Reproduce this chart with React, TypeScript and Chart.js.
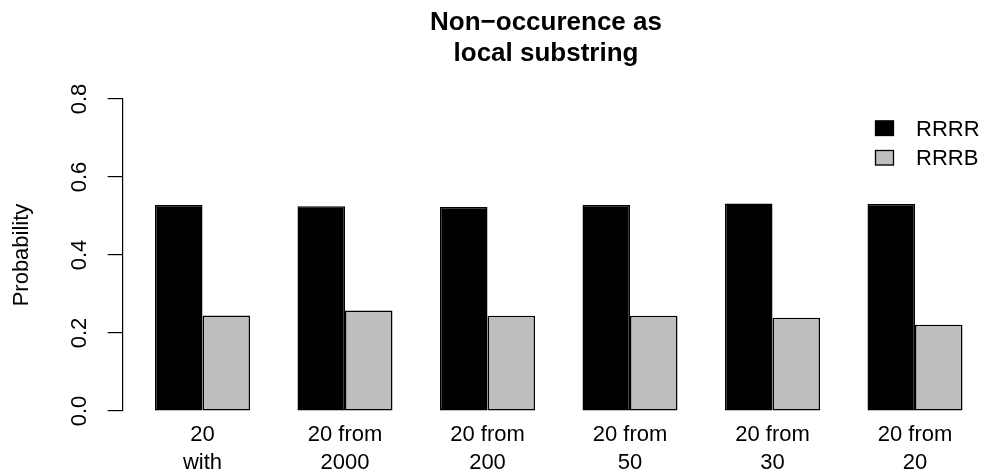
import React, { useEffect, useRef } from 'react';
import { Chart, registerables } from 'chart.js';

Chart.register(...registerables);

const categories: string[][] = [
  ['20', 'with'],
  ['20 from', '2000'],
  ['20 from', '200'],
  ['20 from', '50'],
  ['20 from', '30'],
  ['20 from', '20'],
];
const seriesNames = ['RRRR', 'RRRB'];
const rrrrValues = [0.528, 0.525, 0.523, 0.528, 0.532, 0.531];
const rrrbValues = [0.245, 0.258, 0.244, 0.244, 0.239, 0.221];
const yTickValues = [0, 0.2, 0.4, 0.6, 0.8];
const titleLines = ['Non\u2212occurence as', 'local substring'];
const yAxisLabel = 'Probability';

const FONT = "'Liberation Sans', Arial, Helvetica, sans-serif";

const legendPlugin = {
  id: 'rStyleLegend',
  afterDraw(chart: any) {
    const ctx = chart.ctx;
    ctx.save();
    chart.data.datasets.forEach((ds: any, i: number) => {
      const top = 120.5 + i * 29.5;
      ctx.fillStyle = ds.backgroundColor;
      ctx.fillRect(875, top, 19, 15.5);
      ctx.strokeStyle = '#000';
      ctx.lineWidth = 1.3;
      ctx.strokeRect(875.5, top + 0.5, 18, 14.5);
      ctx.fillStyle = '#000';
      ctx.font = `22px ${FONT}`;
      ctx.textAlign = 'left';
      ctx.textBaseline = 'alphabetic';
      ctx.fillText(ds.label, 916, 136 + i * 28.5);
    });
    ctx.restore();
  },
};

export default function App() {
  const canvasRef = useRef<HTMLCanvasElement | null>(null);

  useEffect(() => {
    if (!canvasRef.current) return;
    Chart.defaults.font.family = FONT;
    Chart.defaults.color = '#000';

    const chart = new Chart(canvasRef.current, {
      type: 'bar',
      data: {
        datasets: [
          {
            label: seriesNames[0],
            data: rrrrValues.map((v, i) => ({ x: i, y: v })),
            backgroundColor: '#000000',
            borderColor: '#000000',
            borderWidth: 1.5,
            borderSkipped: false,
          },
          {
            label: seriesNames[1],
            data: rrrbValues.map((v, i) => ({ x: i, y: v })),
            backgroundColor: '#BEBEBE',
            borderColor: '#000000',
            borderWidth: 1.5,
            borderSkipped: false,
          },
        ],
      },
      options: {
        animation: false,
        responsive: false,
        devicePixelRatio: 1,
        categoryPercentage: 2 / 3,
        barPercentage: 1,
        layout: { padding: { left: 0, right: 16.7, top: 0, bottom: 0 } },
        plugins: {
          legend: { display: false },
          tooltip: { enabled: false },
          title: {
            display: true,
            text: titleLines,
            fullSize: false,
            color: '#000',
            font: { size: 26, weight: 'bold', lineHeight: 31 / 26 },
            padding: { top: 7.5, bottom: 29.5 },
          },
        },
        scales: {
          x: {
            type: 'linear',
            offset: false,
            bounds: 'data',
            min: -0.56,
            max: 5.381,
            grid: { display: false },
            border: { display: false },
            ticks: {
              autoSkip: false,
              maxRotation: 0,
              minRotation: 0,
              padding: 2.4,
              color: '#000',
              font: { size: 22, lineHeight: 28 / 22 },
              callback: (value: any) => categories[Math.round(Number(value))] ?? '',
            },
            afterBuildTicks: (scale: any) => {
              scale.ticks = categories.map((_, i) => ({ value: i }));
            },
            afterFit: (scale: any) => {
              scale.height = 59;
            },
          },
          y: {
            type: 'linear',
            bounds: 'data',
            min: 0,
            max: 0.8,
            grid: {
              display: true,
              drawOnChartArea: false,
              drawTicks: true,
              tickLength: 15,
              color: '#000',
              lineWidth: 1.2,
            },
            border: { display: true, color: '#000', width: 1.2 },
            ticks: {
              minRotation: 90,
              maxRotation: 90,
              crossAlign: 'center',
              padding: 12.4,
              color: '#000',
              font: { size: 22 },
              callback: (value: any) => Number(value).toFixed(1),
            },
            title: {
              display: true,
              text: yAxisLabel,
              color: '#000',
              font: { size: 22 },
              padding: { top: 8.8, bottom: 0 },
            },
            afterBuildTicks: (scale: any) => {
              scale.ticks = yTickValues.map((v) => ({ value: v }));
            },
            afterFit: (scale: any) => {
              scale.width = 122.7;
            },
          },
        },
      } as any,
      plugins: [legendPlugin],
    });

    return () => chart.destroy();
  }, []);

  return (
    <div style={{ position: 'absolute', left: 0, top: 0, width: 986, height: 470, background: '#fff' }}>
      <canvas ref={canvasRef} width={986} height={470} style={{ display: 'block' }} />
    </div>
  );
}
